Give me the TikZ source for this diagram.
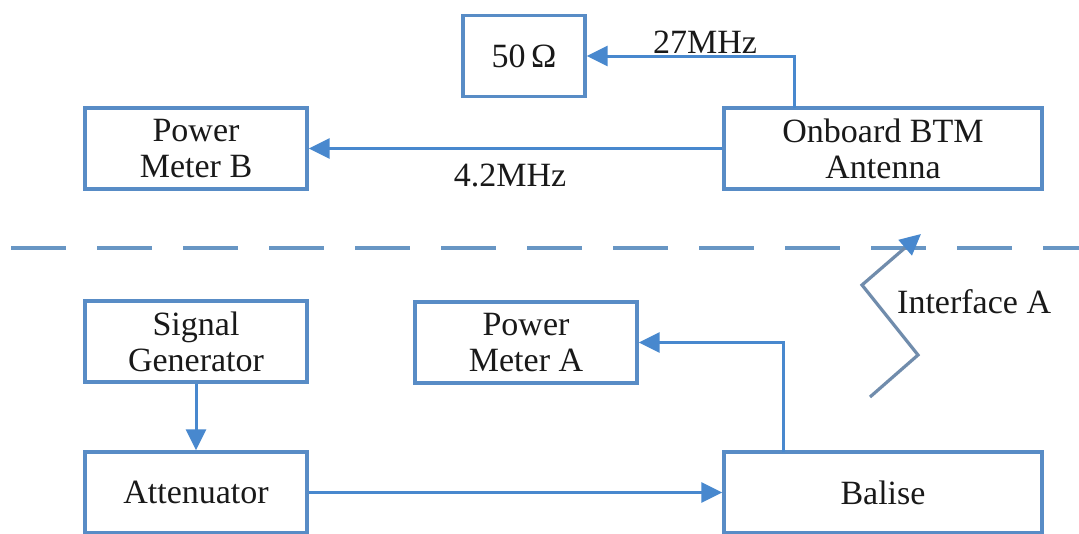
\documentclass[tikz,border=0pt]{standalone}
\usepackage{fontspec}
\setmainfont{Liberation Serif}
\usetikzlibrary{arrows.meta}
\definecolor{boxc}{RGB}{88,140,198}
\definecolor{arrc}{RGB}{72,136,206}
\definecolor{dashc}{RGB}{104,150,196}
\definecolor{zigc}{RGB}{112,140,172}
\tikzset{
  blk/.style={draw=boxc, line width=3.4pt, fill=white, inner sep=0pt, align=center,
    minimum height=81pt, font=\fontsize{34}{36}\selectfont, text=black!90},
  conn/.style={draw=arrc, line width=3pt, -{Triangle[length=21pt,width=20pt]}},
  lbl/.style={font=\fontsize{34}{36}\selectfont, text=black!90, inner sep=0pt}
}
\begin{document}
\begin{tikzpicture}[x=1pt,y=-1pt]
\useasboundingbox (0,0) rectangle (1079,533);
\fill[white] (0,0) rectangle (1079,533);
% boxes
\node[blk, minimum width=122pt] (ohm) at (524,56) {50\,Ω};
\node[blk, minimum width=222pt] (pmb) at (196,148.5) {Power\\Meter B};
\node[blk, minimum width=318pt] (btm) at (883,148.5) {Onboard BTM\\Antenna};
\node[blk, minimum width=222pt] (sg) at (196,341.5) {Signal\\Generator};
\node[blk, minimum width=222pt] (pma) at (526,342.5) {Power\\Meter A};
\node[blk, minimum width=222pt] (att) at (196,492.5) {Attenuator};
\node[blk, minimum width=318pt] (bal) at (883,492.5) {Balise};
% dashed separator
\coordinate (dl) at (11,248);
\coordinate (dr) at (1079,248);
\draw[dashc, line width=3.2pt, dash pattern=on 55pt off 31pt] (dl) -- (dr);
% connectors
\coordinate (btmtop) at (794,108);
\draw[conn] (btmtop) |- (ohm.east);
\node[lbl] (l27) at (705,42) {27MHz};
\draw[conn] (btm.west) -- (pmb.east);
\node[lbl] (l42) at (510,175) {4.2MHz};
\draw[conn] (sg.south) -- (att.north);
\draw[conn] (att.east) -- (bal.west);
\coordinate (baltop) at (783,452);
\draw[conn] (baltop) |- (pma.east);
% interface zigzag
\coordinate (z0) at (870,397);
\coordinate (z1) at (918,355);
\coordinate (z2) at (862,285);
\coordinate (z3) at (921,234);
\draw[zigc, line width=3.2pt, line join=miter, -{Triangle[length=21pt,width=20pt,color=arrc]}] (z0) -- (z1) -- (z2) -- (z3);
\node[lbl, anchor=west] (ifa) at (897,302) {Interface A};
\end{tikzpicture}
\end{document}
